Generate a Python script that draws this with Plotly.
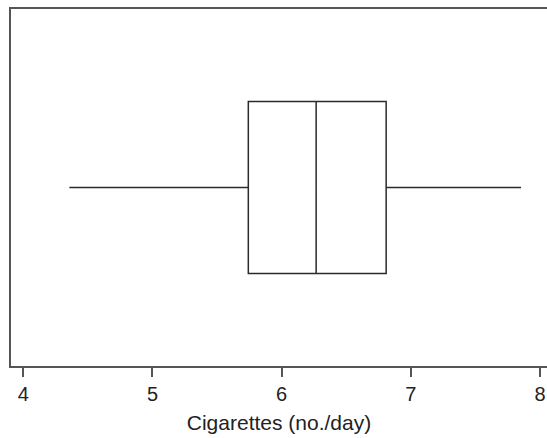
import plotly.graph_objects as go

# Summary statistics for daily cigarette consumption
lower_whisker = [4.357]
q1_vals = [5.742]
median_vals = [6.267]
q3_vals = [6.809]
upper_whisker = [7.853]
tick_vals = [4, 5, 6, 7, 8]

line_col = "#2b2b2b"
frame_col = "#555555"

fig = go.Figure()
fig.add_trace(go.Box(
    orientation="h",
    y=[0],
    q1=q1_vals,
    median=median_vals,
    q3=q3_vals,
    lowerfence=lower_whisker,
    upperfence=upper_whisker,
    width=0.482,
    whiskerwidth=0,
    fillcolor="rgba(0,0,0,0)",
    line=dict(color=line_col, width=1.5),
    boxpoints=False,
    hoverinfo="skip",
    showlegend=False,
))

fig.update_layout(
    width=547,
    height=438,
    margin=dict(l=11, r=0, t=9, b=72),
    paper_bgcolor="white",
    plot_bgcolor="white",
    font=dict(family="Liberation Sans, Arial, sans-serif", size=20, color="#222222"),
    xaxis=dict(
        range=[3.905, 8.054],
        tickvals=tick_vals,
        ticks="outside",
        ticklen=9,
        tickwidth=1.5,
        tickcolor=frame_col,
        tickfont=dict(size=20),
        showline=True,
        mirror=True,
        linecolor=frame_col,
        linewidth=1.5,
        showgrid=False,
        zeroline=False,
        title=dict(text="Cigarettes (no./day)", font=dict(size=21), standoff=12),
    ),
    yaxis=dict(
        range=[-0.5, 0.5],
        showticklabels=False,
        ticks="",
        showline=True,
        mirror=False,
        linecolor=frame_col,
        linewidth=1.5,
        showgrid=False,
        zeroline=False,
    ),
)

fig.write_html("out.html")
